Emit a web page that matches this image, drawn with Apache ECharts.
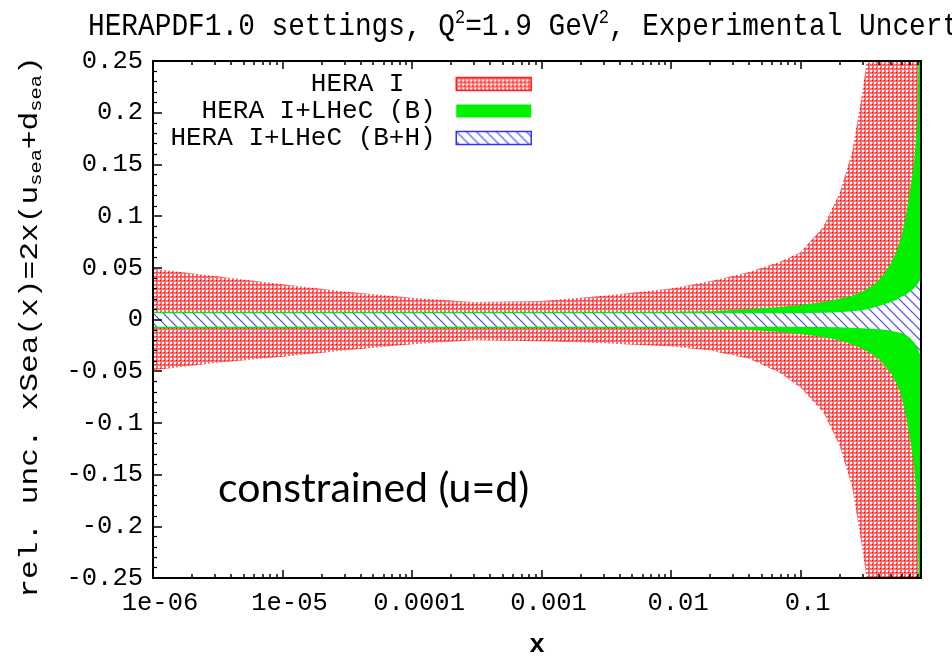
<!DOCTYPE html>
<html><head><meta charset="utf-8">
<script src="https://cdn.jsdelivr.net/npm/echarts@6/dist/echarts.min.js"></script>
<style>html,body{margin:0;padding:0;background:#fff}#c{width:952px;height:657px}</style>
</head><body><div id="c"></div>
<script>
// ---------------- data ----------------
const xs      = [1e-6, 3e-6, 1e-5, 3e-5, 1e-4, 3e-4, 1e-3, 3e-3, 1e-2, 2e-2, 4e-2, 7e-2, 0.1, 0.15, 0.2, 0.25, 0.3, 0.35, 0.4, 0.45, 0.5, 0.55, 0.6, 0.65, 0.7, 0.75, 0.8, 0.85];
const redHi   = [0.049, 0.042, 0.034, 0.027, 0.021, 0.017, 0.018, 0.023, 0.030, 0.037, 0.046, 0.056, 0.065, 0.090, 0.122, 0.162, 0.220, 0.28, 0.34, 0.41, 0.48, 0.56, 0.65, 0.75, 0.85, 0.95, 1.05, 1.15];
const redLo   = [-0.049, -0.042, -0.036, -0.030, -0.024, -0.020, -0.021, -0.023, -0.026, -0.030, -0.038, -0.052, -0.066, -0.090, -0.122, -0.162, -0.222, -0.28, -0.34, -0.41, -0.48, -0.56, -0.65, -0.75, -0.85, -0.95, -1.05, -1.15];
const greenHi = [0.0075, 0.0075, 0.0075, 0.0075, 0.0075, 0.0075, 0.0075, 0.0075, 0.0075, 0.008, 0.010, 0.012, 0.014, 0.017, 0.020, 0.023, 0.027, 0.032, 0.038, 0.046, 0.055, 0.066, 0.080, 0.100, 0.125, 0.150, 0.195, 0.40];
const greenLo = [-0.0085, -0.0085, -0.0085, -0.0085, -0.0085, -0.0085, -0.0085, -0.0085, -0.0085, -0.009, -0.010, -0.012, -0.014, -0.017, -0.020, -0.024, -0.028, -0.033, -0.038, -0.045, -0.052, -0.062, -0.073, -0.093, -0.115, -0.140, -0.185, -0.40];
const blueHi  = [0.006, 0.006, 0.006, 0.006, 0.006, 0.006, 0.006, 0.006, 0.006, 0.006, 0.006, 0.006, 0.006, 0.0065, 0.007, 0.008, 0.009, 0.011, 0.013, 0.015, 0.017, 0.019, 0.022, 0.024, 0.027, 0.030, 0.034, 0.040];
const blueLo  = [-0.007, -0.007, -0.007, -0.007, -0.007, -0.007, -0.007, -0.007, -0.007, -0.007, -0.007, -0.007, -0.007, -0.0072, -0.0075, -0.008, -0.0085, -0.009, -0.0095, -0.010, -0.011, -0.012, -0.013, -0.015, -0.018, -0.022, -0.028, -0.036];

const seriesNames = ['HERA I', 'HERA I+LHeC (B)', 'HERA I+LHeC (B+H)'];
const xTickValues = [1e-6, 1e-5, 1e-4, 1e-3, 1e-2, 1e-1];
const xTickLabels = ['1e-06', '1e-05', '0.0001', '0.001', '0.01', '0.1'];
const yTickLabels = ['-0.25', '-0.2', '-0.15', '-0.1', '-0.05', '0', '0.05', '0.1', '0.15', '0.2', '0.25'];
const xMin = 1e-6, xMax = 0.85, yMin = -0.25, yMax = 0.25, yStep = 0.05;

// minor tick positions of the log axis (2..9 in each decade)
const xMinorValues = [];
for (let d = -6; d <= -1; d++) {
  for (let m = 2; m <= 9; m++) {
    const v = m * Math.pow(10, d);
    if (v < xMax) xMinorValues.push(v);
  }
}

// ---------------- fill patterns ----------------
function makeRedPattern() {
  const c = document.createElement('canvas'); c.width = 4; c.height = 4;
  const g = c.getContext('2d');
  g.fillStyle = '#ff6e6e'; g.fillRect(0, 0, 4, 4);
  g.fillStyle = '#ffffff'; g.fillRect(2, 2, 2, 2);
  g.fillStyle = '#ff0000'; g.fillRect(0, 0, 1, 1);
  return { image: c, repeat: 'repeat' };
}
function makeBluePattern() {
  const s = 10;
  const c = document.createElement('canvas'); c.width = s; c.height = s;
  const g = c.getContext('2d');
  g.fillStyle = '#ffffff'; g.fillRect(0, 0, s, s);
  g.strokeStyle = '#4646ff'; g.lineWidth = 1.2;
  g.beginPath();
  g.moveTo(-1, -1); g.lineTo(s + 1, s + 1);
  g.moveTo(-1, s - 1); g.lineTo(1, s + 1);
  g.moveTo(s - 1, -1); g.lineTo(s + 1, 1);
  g.stroke();
  return { image: c, repeat: 'repeat' };
}
const redPattern = makeRedPattern();
const bluePattern = makeBluePattern();
const greenColor = '#00f000';

const MONO = 'Liberation Mono';

function band(name, lo, hi, fill, z) {
  return {
    type: 'custom',
    name: name,
    coordinateSystem: 'cartesian2d',
    xAxisIndex: 0, yAxisIndex: 0,
    clip: true,
    z: z,
    silent: true,
    itemStyle: { color: fill },
    data: xs.map((x, i) => [x, lo[i], hi[i]]),
    encode: { x: 0, y: [1, 2] },
    renderItem: function (params, api) {
      if (params.dataIndexInside !== 0) return null;
      const n = params.dataInsideLength;
      const top = [], bot = [];
      for (let j = 0; j < n; j++) {
        const x = api.value(0, j);
        top.push(api.coord([x, api.value(2, j)]));
        bot.push(api.coord([x, api.value(1, j)]));
      }
      return {
        type: 'polygon',
        shape: { points: top.concat(bot.reverse()) },
        style: { fill: fill, stroke: null }
      };
    }
  };
}

function xAxisDef(position, major, withLabels) {
  return {
    type: 'log', logBase: 10, min: xMin, max: xMax, position: position, z: 10,
    axisLine: { show: major, onZero: false, lineStyle: { color: '#000', width: 2 } },
    axisTick: { show: true, inside: true, length: major ? 8 : 4,
      customValues: major ? xTickValues : xMinorValues,
      lineStyle: { color: '#000', width: 1.5 } },
    axisLabel: withLabels ? {
      show: true, customValues: xTickValues,
      formatter: function (v) { return xTickLabels[Math.round(Math.log10(v)) + 6]; },
      fontFamily: MONO, fontSize: 25.5, color: '#000', margin: 12, padding: [0, 0, 0, 14]
    } : { show: false },
    splitLine: { show: false }, minorTick: { show: false }, minorSplitLine: { show: false }
  };
}

const chart = echarts.init(document.getElementById('c'), null, { renderer: 'canvas' });
chart.setOption({
  animation: false,
  backgroundColor: '#ffffff',
  grid: { left: 153, right: 31, top: 61, bottom: 79, containLabel: false, outerBoundsMode: 'none' },
  xAxis: [
    xAxisDef('bottom', true, true),
    xAxisDef('bottom', false, false),
    xAxisDef('top', true, false),
    xAxisDef('top', false, false)
  ],
  yAxis: [
    {
      type: 'value', min: yMin, max: yMax, interval: yStep, position: 'left', z: 10,
      axisLine: { show: true, onZero: false, lineStyle: { color: '#000', width: 2 } },
      axisTick: { show: true, inside: true, length: 9, lineStyle: { color: '#000', width: 1.5 } },
      minorTick: { show: true, splitNumber: 5, length: 4, lineStyle: { color: '#000', width: 1.2 } },
      axisLabel: {
        formatter: function (v) { return yTickLabels[Math.round((v - yMin) / yStep)]; },
        fontFamily: MONO, fontSize: 25.5, color: '#000', margin: 10
      },
      splitLine: { show: false }
    },
    {
      type: 'value', min: yMin, max: yMax, interval: yStep, position: 'right', z: 10,
      axisLine: { show: true, onZero: false, lineStyle: { color: '#000', width: 2 } },
      axisTick: { show: false }, axisLabel: { show: false }, splitLine: { show: false }
    }
  ],
  legend: {
    orient: 'vertical', right: 420, top: 71, align: 'right',
    itemWidth: 75, itemHeight: 13, itemGap: 1, padding: 0,
    icon: 'rect', selectedMode: false,
    textStyle: { fontFamily: MONO, fontSize: 26, color: '#000', lineHeight: 26 },
    formatter: function (n) { return n === seriesNames[0] ? n + '   ' : n + ' '; },
    data: [
      { name: seriesNames[0], itemStyle: { color: redPattern, borderColor: '#ff2020', borderWidth: 1.5 } },
      { name: seriesNames[1], itemStyle: { color: greenColor, borderWidth: 0 } },
      { name: seriesNames[2], itemStyle: { color: bluePattern, borderColor: '#3030ff', borderWidth: 1.5 } }
    ]
  },
  series: [
    band(seriesNames[0], redLo, redHi, redPattern, 2),
    band(seriesNames[1], greenLo, greenHi, greenColor, 3),
    band(seriesNames[2], blueLo, blueHi, bluePattern, 4)
  ],
  graphic: [
    {
      type: 'text', x: 88, y: 8, z: 20, scaleY: 1.15,
      style: {
        text: '{n|HERAPDF1.0 settings, Q}{s|2}{n|=1.9 GeV}{s|2}{n|, Experimental Uncert}',
        rich: {
          n: { fontFamily: MONO, fontSize: 27.8, lineHeight: 32, fill: '#000' },
          s: { fontFamily: MONO, fontSize: 17, lineHeight: 16, verticalAlign: 'top', fill: '#000' }
        },
        fill: '#000'
      }
    },
    {
      type: 'text', x: 30, y: 327, rotation: Math.PI / 2, scaleX: 1.2, z: 20,
      style: {
        text: '{n|rel. unc. xSea(x)=2x(u}{b|sea}{n|+d}{b|sea}{n|)}',
        rich: {
          n: { fontFamily: MONO, fontSize: 26, lineHeight: 30, fill: '#000' },
          b: { fontFamily: MONO, fontSize: 17, lineHeight: 16, verticalAlign: 'bottom', fill: '#000' }
        },
        align: 'center', verticalAlign: 'middle',
        textAlign: 'center', textVerticalAlign: 'middle',
        fill: '#000'
      }
    },
    {
      type: 'text', x: 537, y: 645, z: 20,
      style: {
        text: 'x', fontFamily: MONO, fontSize: 26, fontWeight: 'bold', fill: '#000',
        align: 'center', verticalAlign: 'middle', textAlign: 'center', textVerticalAlign: 'middle'
      }
    },
    {
      type: 'text', x: 218, y: 489, z: 20,
      style: {
        text: 'constrained (u=d)', fontFamily: 'Lato', fontSize: 41, fill: '#000',
        align: 'left', verticalAlign: 'middle', textAlign: 'left', textVerticalAlign: 'middle'
      }
    }
  ]
});
</script>
</body></html>
